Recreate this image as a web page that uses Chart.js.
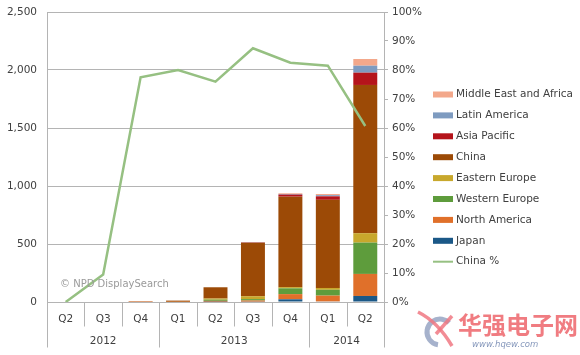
<!DOCTYPE html>
<html>
<head>
<meta charset="utf-8">
<script src="https://cdn.jsdelivr.net/npm/chart.js@4/dist/chart.umd.min.js"></script>
<style>
  html, body { margin: 0; padding: 0; background: #ffffff; }
  #wrap { width: 580px; height: 355px; position: relative; }
</style>
</head>
<body>
<div id="wrap"><canvas id="c" width="580" height="355"></canvas></div>
<script>
// ---- data ----
const quarters = ['Q2', 'Q3', 'Q4', 'Q1', 'Q2', 'Q3', 'Q4', 'Q1', 'Q2'];
const years = ['2012', '2013', '2014'];
const quartersPerYear = [3, 4, 2];

const japan            = [0, 0, 0, 0, 2, 3, 23, 5, 52];
const northAmerica     = [0, 0, 1, 1, 8, 10, 45, 50, 190];
const westernEurope    = [0, 0, 0, 1, 10, 12, 50, 50, 270];
const easternEurope    = [0, 0, 0, 0, 10, 25, 10, 16, 81];
const china            = [0, 0, 3, 10, 97, 460, 780, 760, 1278];
const asiaPacific      = [0, 0, 0, 0, 0, 3, 18, 30, 106];
const latinAmerica     = [0, 0, 0, 0, 0, 2, 5, 10, 60];
const middleEastAfrica = [0, 0, 0, 0, 0, 0, 6, 10, 58];
const chinaPct         = [0, 9.5, 77.5, 80, 76, 87.5, 82.5, 81.5, 60.7];

const leftTicks = [0, 500, 1000, 1500, 2000, 2500];

// ---- styles ----
const FONT = 'DejaVu Sans';
const TXT = '#404040';
const GRID = '#b4b4b4';

const barSeries = [
  { label: 'Japan', data: japan, color: '#1b5887' },
  { label: 'North America', data: northAmerica, color: '#e0702a' },
  { label: 'Western Europe', data: westernEurope, color: '#5e9c3c' },
  { label: 'Eastern Europe', data: easternEurope, color: '#c8a82c' },
  { label: 'China', data: china, color: '#9c4a06' },
  { label: 'Asia Pacific', data: asiaPacific, color: '#b5141b' },
  { label: 'Latin America', data: latinAmerica, color: '#7e9bc0' },
  { label: 'Middle East and Africa', data: middleEastAfrica, color: '#f3a88b' }
];
const lineColor = '#96c082';

const datasets = barSeries.map(s => ({
  type: 'bar',
  label: s.label,
  data: s.data,
  backgroundColor: s.color,
  borderWidth: 0,
  yAxisID: 'y',
  stack: 'regions',
  categoryPercentage: 1.0,
  barPercentage: 0.64,
  order: 2
}));
datasets.push({
  type: 'line',
  label: 'China %',
  data: chinaPct,
  borderColor: lineColor,
  backgroundColor: lineColor,
  borderWidth: 2.5,
  pointRadius: 0,
  tension: 0,
  yAxisID: 'y1',
  order: 1
});

// custom legend order: top to bottom
const legendOrder = ['Middle East and Africa', 'Latin America', 'Asia Pacific', 'China',
  'Eastern Europe', 'Western Europe', 'North America', 'Japan', 'China %'];

const decorPlugin = {
  id: 'decor',
  afterDraw(chart) {
    const ctx = chart.ctx;
    const xs = chart.scales.x;
    const area = chart.chartArea;
    const n = quarters.length;
    const centers = quarters.map((q, i) => xs.getPixelForValue(i));
    const bounds = [area.left];
    for (let i = 1; i < n; i++) bounds.push((centers[i - 1] + centers[i]) / 2);
    bounds.push(area.right);

    const yearBounds = [0];
    let acc = 0;
    quartersPerYear.forEach(k => { acc += k; yearBounds.push(acc); });

    ctx.save();
    ctx.strokeStyle = GRID;
    ctx.lineWidth = 1;
    const y0 = Math.round(area.bottom) + 0.5;
    bounds.forEach((bx, i) => {
      const isYear = yearBounds.includes(i);
      const len = isYear ? 45 : 24;
      const x = Math.round(bx) + 0.5;
      ctx.beginPath();
      ctx.moveTo(x, y0);
      ctx.lineTo(x, y0 + len);
      ctx.stroke();
    });

    // year labels
    ctx.fillStyle = TXT;
    ctx.font = '10.5px "' + FONT + '"';
    ctx.textAlign = 'center';
    ctx.textBaseline = 'middle';
    years.forEach((yr, k) => {
      const a = bounds[yearBounds[k]], b = bounds[yearBounds[k + 1]];
      ctx.fillText(yr, (a + b) / 2, area.bottom + 39);
    });

    // source watermark
    ctx.fillStyle = '#9a9a9a';
    ctx.font = '10px "' + FONT + '"';
    ctx.textAlign = 'left';
    ctx.fillText('\u00A9 NPD DisplaySearch', area.left + 13, area.bottom - 18);

    // legend
    const lx = 433, ly = 94, step = 20.9;
    ctx.font = '10.5px "' + FONT + '"';
    ctx.textBaseline = 'middle';
    legendOrder.forEach((name, i) => {
      const y = ly + i * step;
      const idx = chart.data.datasets.findIndex(d => d.label === name);
      const ds = chart.data.datasets[idx];
      if (ds.type === 'line') {
        ctx.strokeStyle = ds.borderColor;
        ctx.lineWidth = 2;
        ctx.beginPath();
        ctx.moveTo(lx, y + 0.5);
        ctx.lineTo(lx + 20, y + 0.5);
        ctx.stroke();
      } else {
        ctx.fillStyle = ds.backgroundColor;
        ctx.fillRect(lx, y - 2.5, 20, 6);
      }
      ctx.fillStyle = TXT;
      ctx.fillText(name, lx + 23, y + 0.5);
    });

    // site watermark (bottom right)
    ctx.lineWidth = 5;
    ctx.strokeStyle = 'rgba(150,165,195,0.85)';
    ctx.beginPath();
    ctx.arc(440, 332, 13, Math.PI * 0.55, Math.PI * 1.75);
    ctx.stroke();
    ctx.strokeStyle = 'rgba(240,120,130,0.85)';
    ctx.lineWidth = 3.5;
    ctx.beginPath();
    ctx.moveTo(418, 312);
    ctx.quadraticCurveTo(438, 322, 452, 346);
    ctx.stroke();
    ctx.beginPath();
    ctx.moveTo(452, 316);
    ctx.lineTo(436, 334);
    ctx.stroke();

    ctx.fillStyle = 'rgba(238,110,115,0.9)';
    ctx.font = 'bold 24px "Noto Sans CJK SC"';
    ctx.textAlign = 'left';
    ctx.textBaseline = 'alphabetic';
    ctx.fillText('华强电子网', 458, 334);
    ctx.fillStyle = 'rgba(120,140,180,0.9)';
    ctx.font = 'italic 8.5px "' + FONT + '"';
    ctx.fillText('www.hqew.com', 472, 347);
    ctx.restore();
  }
};

new Chart(document.getElementById('c'), {
  data: { labels: quarters, datasets: datasets },
  plugins: [decorPlugin],
  options: {
    responsive: false,
    animation: false,
    devicePixelRatio: 1,
    layout: { padding: { top: 12, right: 150, left: 0, bottom: 0 } },
    plugins: {
      legend: { display: false },
      tooltip: { enabled: false }
    },
    scales: {
      x: {
        stacked: true,
        grid: { display: false },
        border: { display: true, color: GRID, width: 1 },
        ticks: { color: TXT, font: { family: FONT, size: 10.5 }, padding: 3, maxRotation: 0 },
        afterFit(s) { s.height = 53; }
      },
      y: {
        stacked: true,
        position: 'left',
        min: 0, max: 2500,
        afterBuildTicks(s) { s.ticks = leftTicks.map(v => ({ value: v })); },
        grid: { color: GRID, lineWidth: 1, drawTicks: false },
        border: { display: true, color: GRID, width: 1 },
        ticks: {
          color: TXT, font: { family: FONT, size: 10.5 }, padding: 10,
          callback: v => v.toLocaleString('en-US')
        },
        afterFit(s) { s.width = 47; s.paddingTop = 6; s.paddingBottom = 6; }
      },
      y1: {
        position: 'right',
        min: 0, max: 100,
        ticks: {
          stepSize: 10, color: TXT, font: { family: FONT, size: 10.5 }, padding: 4,
          callback: v => v + '%'
        },
        grid: { drawOnChartArea: false, color: GRID, tickLength: 4 },
        border: { display: true, color: GRID, width: 1 },
        afterFit(s) { s.width = 46; s.paddingTop = 6; s.paddingBottom = 6; }
      }
    }
  }
});
</script>
</body>
</html>
